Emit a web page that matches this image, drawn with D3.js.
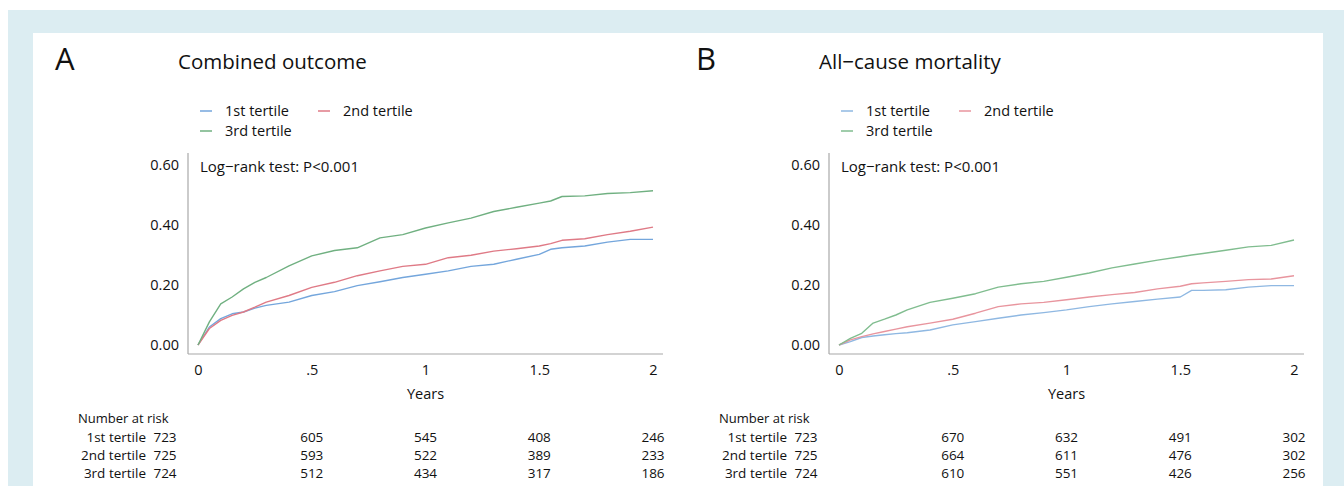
<!DOCTYPE html>
<html>
<head>
<meta charset="utf-8">
<script src="https://cdn.jsdelivr.net/npm/d3@7"></script>
<style>
  html, body { margin: 0; padding: 0; background: #fff; }
  svg { display: block; }
  text { font-family: "Open Sans", "Noto Sans", sans-serif; fill: #111; }
</style>
</head>
<body>
<div id="chart"></div>
<script>
(function () {
  'use strict';

  // ── Data ───────────────────────────────────────────────
  var times = [0, 0.05, 0.1, 0.15, 0.2, 0.25, 0.3, 0.4, 0.5, 0.6, 0.7, 0.8, 0.9,
               1.0, 1.1, 1.2, 1.3, 1.4, 1.5, 1.55, 1.6, 1.7, 1.8, 1.9, 2.0];

  // A: combined outcome
  var firstA  = [0, .060, .088, .104, .110, .123, .132, .143, .165, .178, .198, .211, .225,
                 .236, .247, .262, .269, .286, .302, .319, .324, .330, .343, .352, .352];
  var secondA = [0, .055, .082, .099, .110, .126, .143, .165, .192, .209, .231, .247, .262,
                 .269, .291, .299, .313, .321, .330, .338, .349, .354, .368, .379, .393];
  var thirdA  = [0, .077, .137, .160, .187, .209, .225, .264, .297, .315, .324, .357, .368,
                 .390, .407, .423, .445, .459, .473, .480, .495, .497, .505, .508, .514];

  // B: all-cause mortality
  var firstB  = [0, .011, .025, .030, .034, .038, .041, .050, .067, .078, .089, .100, .108,
                 .117, .128, .137, .145, .153, .160, .182, .182, .184, .193, .198, .198];
  var secondB = [0, .017, .028, .037, .045, .053, .061, .073, .086, .106, .128, .137, .142,
                 .151, .160, .168, .175, .187, .196, .204, .207, .212, .218, .220, .231];
  var thirdB  = [0, .022, .039, .073, .086, .100, .117, .142, .156, .171, .193, .204, .212,
                 .226, .240, .257, .270, .283, .294, .300, .305, .316, .327, .332, .350];

  var seriesNames = ['1st tertile', '2nd tertile', '3rd tertile'];
  var xTicks = [0, 0.5, 1, 1.5, 2];
  var xTickLabels = ['0', '.5', '1', '1.5', '2'];
  var yTicks = [0, 0.2, 0.4, 0.6];
  var yTickLabels = ['0.00', '0.20', '0.40', '0.60'];

  var riskTimes = [0, 0.5, 1, 1.5, 2];
  var riskA1 = [723, 605, 545, 408, 246];
  var riskA2 = [725, 593, 522, 389, 233];
  var riskA3 = [724, 512, 434, 317, 186];
  var riskB1 = [723, 670, 632, 491, 302];
  var riskB2 = [725, 664, 611, 476, 302];
  var riskB3 = [724, 610, 551, 426, 256];

  var panels = [
    { letter: 'A', title: 'Combined outcome', series: [firstA, secondA, thirdA],
      risk: [riskA1, riskA2, riskA3], dx: 0,
      colors: ['#74a6dc', '#df7a86', '#70b081'] },
    { letter: 'B', title: 'All\u2212cause mortality', series: [firstB, secondB, thirdB],
      risk: [riskB1, riskB2, riskB3], dx: 641,
      colors: ['#8fb8e2', '#e8959e', '#80bd8f'] }
  ];

  // ── Canvas ─────────────────────────────────────────────
  var W = 1344, H = 486;
  var svg = d3.select('#chart').append('svg')
    .attr('width', W).attr('height', H);

  svg.append('rect').attr('x', 8).attr('y', 10).attr('width', W - 8).attr('height', H - 10)
    .attr('fill', '#dcedf2');
  svg.append('rect').attr('x', 33).attr('y', 33).attr('width', 1323 - 33).attr('height', H - 33)
    .attr('fill', '#fff');

  panels.forEach(function (p) {
    var g = svg.append('g').attr('transform', 'translate(' + p.dx + ',0)');

    var x = d3.scaleLinear().domain([0, 2]).range([198, 653]);
    var y = d3.scaleLinear().domain([0, 0.6]).range([345, 165]);

    g.append('text').attr('x', 55).attr('y', 70)
      .style('font-size', '31px').text(p.letter);
    g.append('text').attr('x', 178).attr('y', 69)
      .style('font-size', '20.5px').text(p.title);

    // legend
    var legendPos = [[200, 111], [318, 111], [200, 131]];
    seriesNames.forEach(function (name, i) {
      var lp = legendPos[i];
      g.append('line')
        .attr('x1', lp[0]).attr('x2', lp[0] + 12)
        .attr('y1', lp[1]).attr('y2', lp[1])
        .attr('stroke', p.colors[i]).attr('stroke-width', 1.5);
      g.append('text').attr('x', lp[0] + 25).attr('y', lp[1])
        .attr('dy', '0.35em').style('font-size', '14.5px').text(name);
    });

    // axes
    var yAxis = d3.axisLeft(y).tickValues(yTicks).tickSize(0).tickPadding(9)
      .tickFormat(function (d, i) { return yTickLabels[i]; });
    var yg = g.append('g').attr('transform', 'translate(188,0)').call(yAxis);
    yg.select('.domain').remove();
    g.append('line').attr('x1', 188).attr('x2', 188).attr('y1', 153).attr('y2', 354)
      .attr('stroke', '#a8a8a8').attr('stroke-width', 1.2);

    var xAxis = d3.axisBottom(x).tickValues(xTicks).tickSize(0).tickPadding(11)
      .tickFormat(function (d, i) { return xTickLabels[i]; });
    var xg = g.append('g').attr('transform', 'translate(0,354)').call(xAxis);
    xg.select('.domain').remove();
    g.append('line').attr('x1', 188).attr('x2', 663).attr('y1', 354).attr('y2', 354)
      .attr('stroke', '#a8a8a8').attr('stroke-width', 1.2);

    g.selectAll('.tick text')
      .style('font-size', '14.5px')
      .style('font-family', '"Open Sans", sans-serif')
      .attr('fill', '#111');

    g.append('text').attr('x', x(1)).attr('y', 394).attr('dy', '0.35em')
      .attr('text-anchor', 'middle').style('font-size', '14.5px').text('Years');

    g.append('text').attr('x', 200).attr('y', 167).attr('dy', '0.35em')
      .style('font-size', '15px').text('Log\u2212rank test: P<0.001');

    // curves
    var line = d3.line()
      .x(function (d, i) { return x(times[i]); })
      .y(function (d) { return y(d); });

    p.series.forEach(function (s, i) {
      g.append('path').datum(s)
        .attr('fill', 'none')
        .attr('stroke', p.colors[i])
        .attr('stroke-width', 1.4)
        .attr('stroke-linejoin', 'round')
        .attr('d', line);
    });

    // number at risk
    g.append('text').attr('x', 78).attr('y', 418).attr('dy', '0.35em')
      .style('font-size', '13px').text('Number at risk');
    var rowY = [437, 455, 473];
    p.risk.forEach(function (row, r) {
      g.append('text').attr('x', 146).attr('y', rowY[r]).attr('dy', '0.35em')
        .attr('text-anchor', 'end').style('font-size', '13.5px').text(seriesNames[r]);
      row.forEach(function (v, c) {
        var cx = c === 0 ? x(riskTimes[c]) - 33 : x(riskTimes[c]);
        g.append('text').attr('x', cx).attr('y', rowY[r]).attr('dy', '0.35em')
          .attr('text-anchor', 'middle').style('font-size', '13.5px').text(v);
      });
    });
  });
})();
</script>
</body>
</html>
